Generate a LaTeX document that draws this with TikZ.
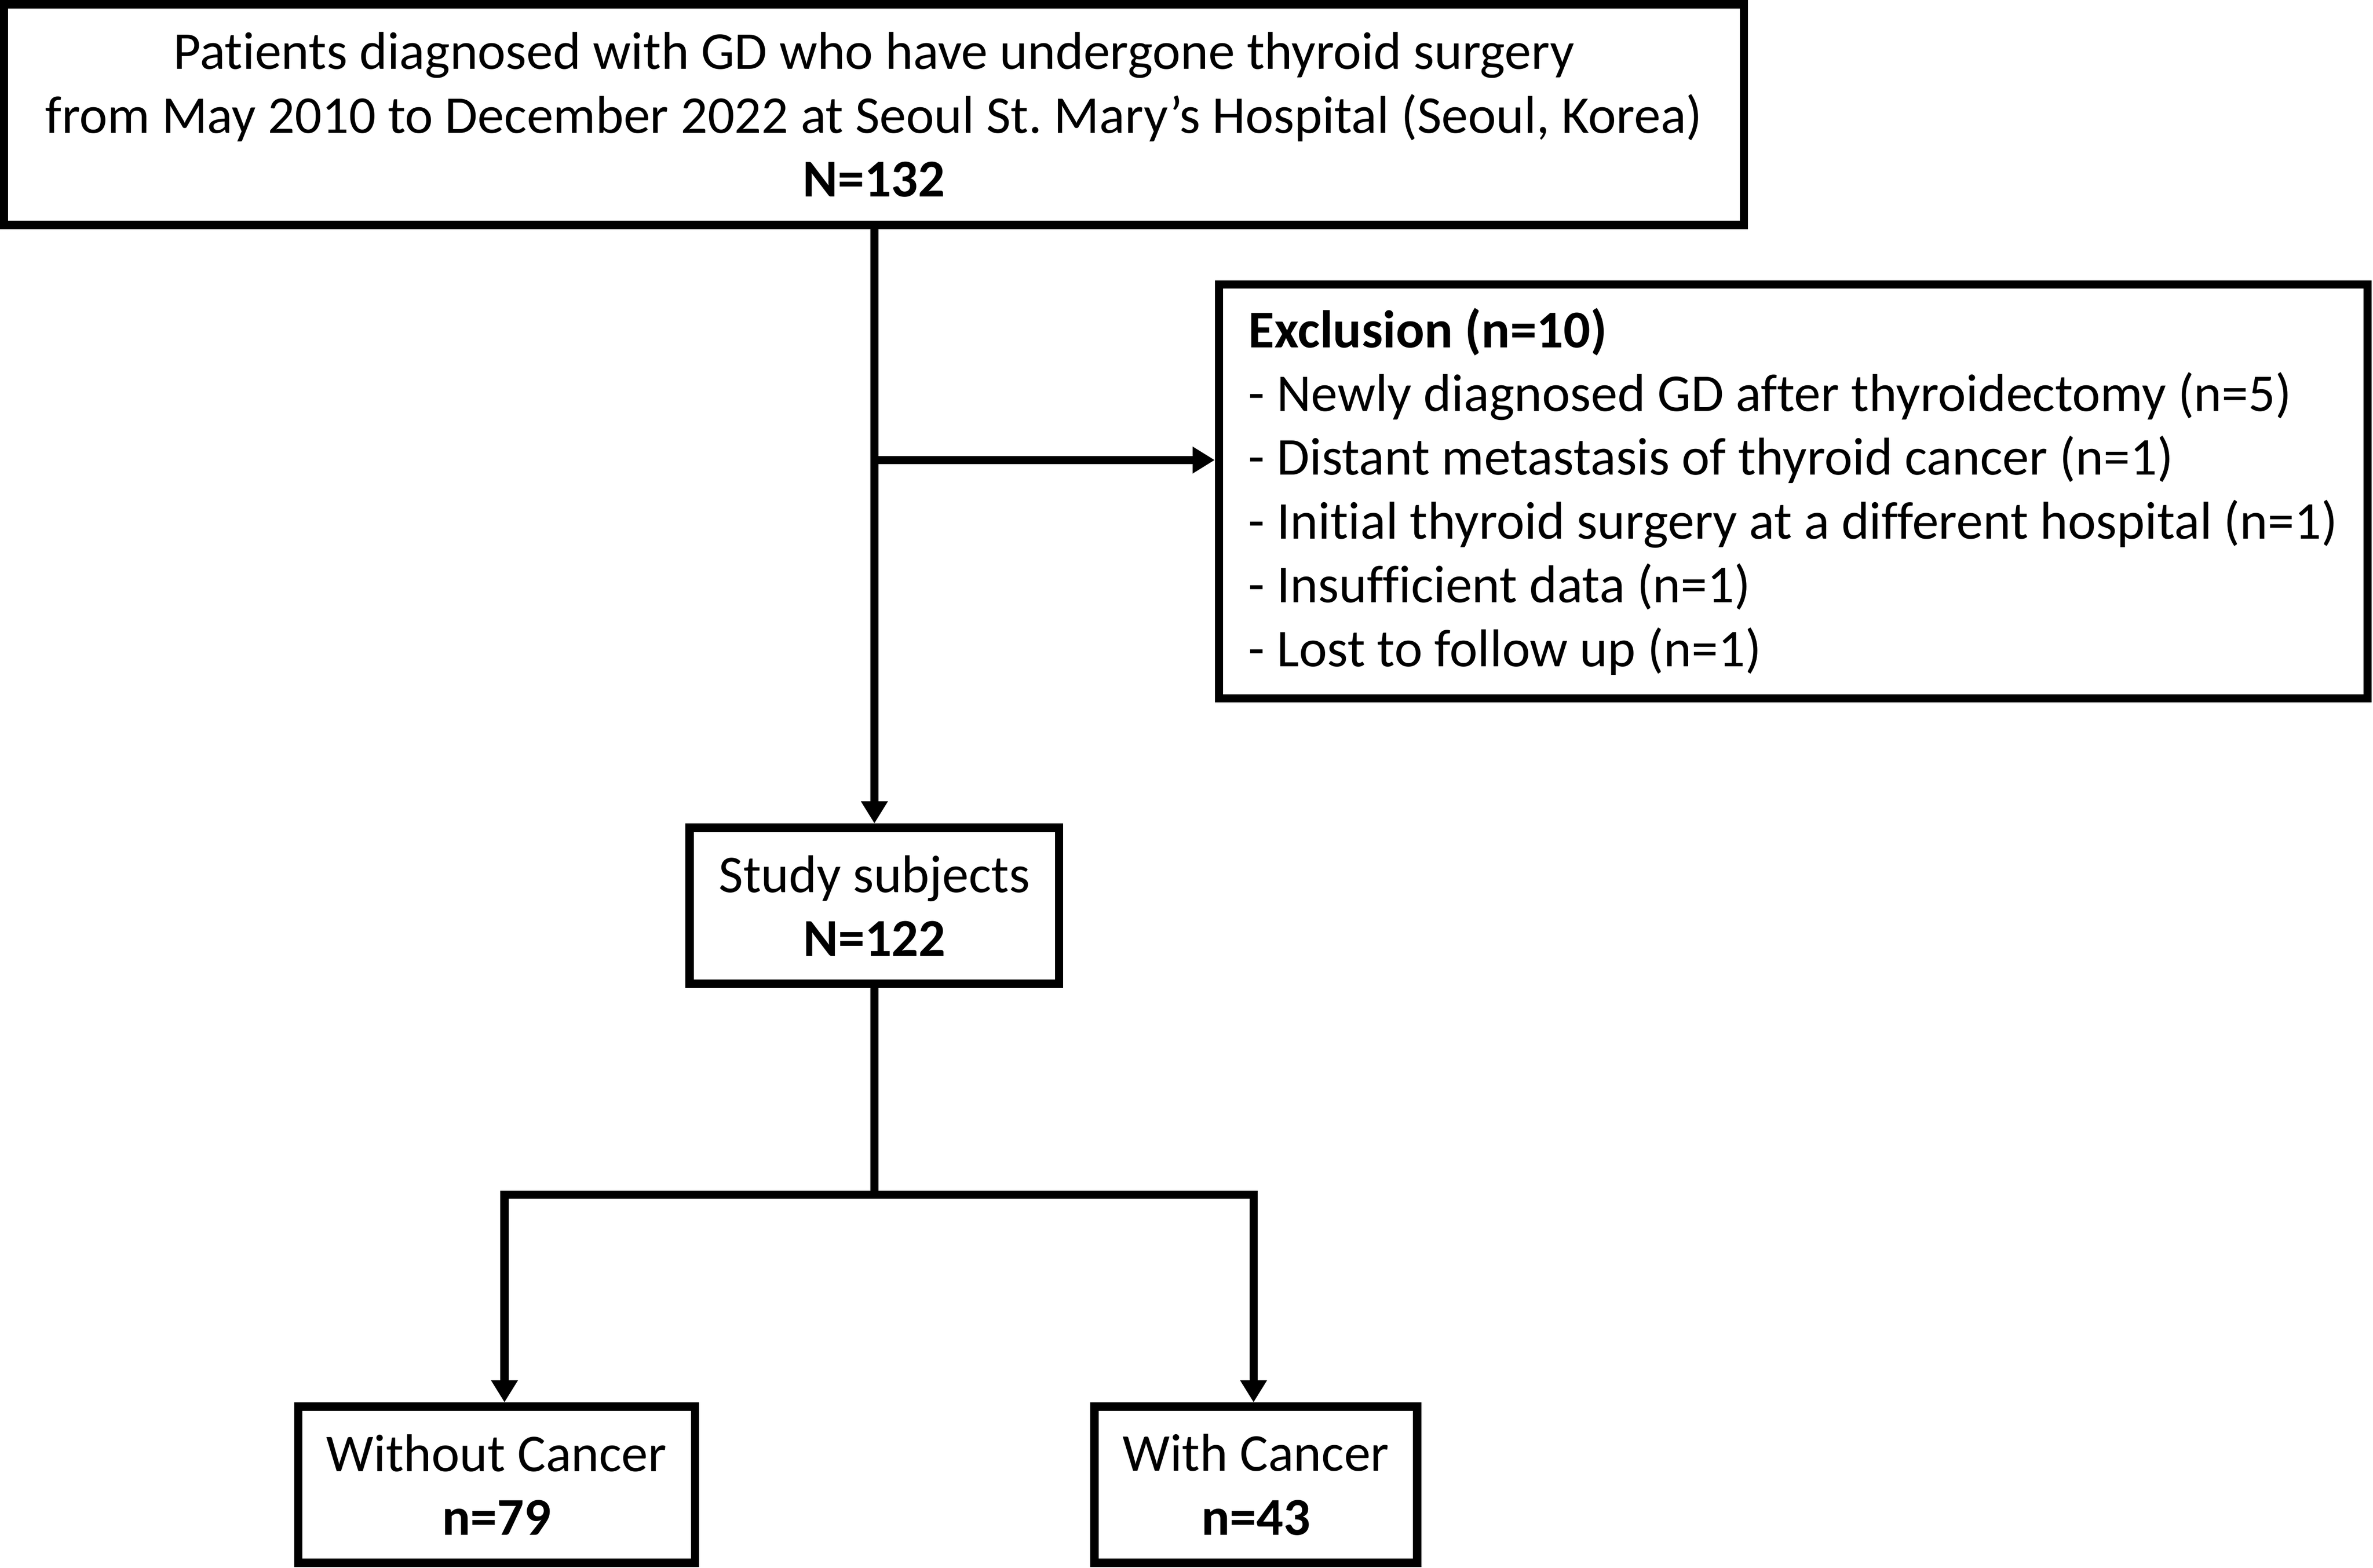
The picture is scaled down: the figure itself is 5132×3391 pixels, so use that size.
\documentclass[tikz,border=0pt]{standalone}
\usepackage{fontspec}
\setmainfont{Carlito}[Ligatures={NoCommon}]
\usetikzlibrary{arrows.meta}
\begin{document}
\frenchspacing
\begin{tikzpicture}[x=0.1pt,y=-0.1pt,
  every node/.style={font=\fontsize{11.5pt}{13.8pt}\selectfont},
  fbox/.style={draw=black,line width=1.8pt,fill=white,inner sep=0pt,align=center},
  conn/.style={line width=1.8pt,line cap=butt,line join=miter},
  arr/.style={conn,-{Triangle[length=4.8pt,width=5.5pt]}},
  darr/.style={conn,{Triangle[length=4.8pt,width=5.5pt]}-{Triangle[length=4.8pt,width=5.5pt]}}]
\useasboundingbox (0,0) rectangle (5132,3391);
\fill[white] (0,0) rectangle (5132,3391);
\node[fbox,minimum width=376.3pt,minimum height=47.7pt] (top) at (1890,248)
  {Patients diagnosed with GD who have undergone thyroid surgery\\
   from May 2010 to December 2022 at Seoul St. Mary’s Hospital (Seoul, Korea)\\
   \textbf{N=132}};
\node[fbox,minimum width=248.4pt,minimum height=89.5pt,align=left] (excl) at (3878,1063)
  {\textbf{Exclusion (n=10)}\\
   - Newly diagnosed GD after thyroidectomy (n=5)\\
   - Distant metastasis of thyroid cancer (n=1)\\
   - Initial thyroid surgery at a different hospital (n=1)\\
   - Insufficient data (n=1)\\
   - Lost to follow up (n=1)};
\node[fbox,minimum width=79.9pt,minimum height=33.8pt] (study) at (1891,1959)
  {Study subjects\\ \textbf{N=122}};
\node[fbox,minimum width=85.8pt,minimum height=33.8pt] (wo) at (1074,3211)
  {Without Cancer\\ \textbf{n=79}};
\node[fbox,minimum width=69.8pt,minimum height=33.8pt] (wi) at (2716,3211)
  {With Cancer\\ \textbf{n=43}};
\coordinate (br) at (1891,995);
\coordinate (sp) at (1891,2584);
\coordinate (sl) at (1091,2584);
\coordinate (sr) at (2711,2584);
\draw[arr] (top.south -| br) -- (study.north -| br);
\draw[arr] (br) -- (br -| excl.west);
\draw[conn] (study.south -| sp) -- (sp);
\draw[darr] (wo.north -| sl) -- (sl) -- (sr) -- (wi.north -| sr);
\end{tikzpicture}
\end{document}
